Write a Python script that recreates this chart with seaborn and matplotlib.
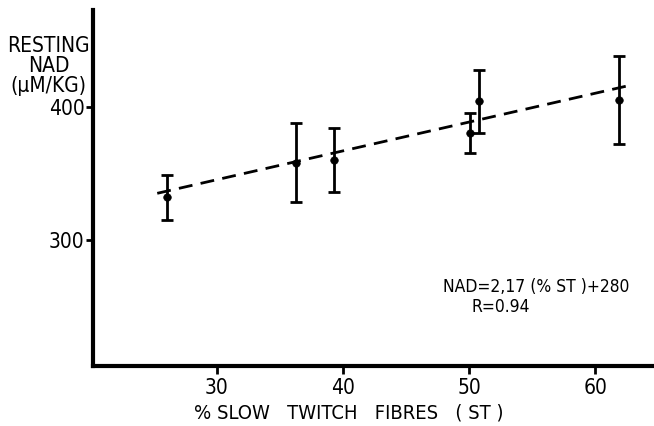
import matplotlib
matplotlib.use("Agg")
import matplotlib.pyplot as plt
import seaborn as sns
import numpy as np
import pandas as pd

# data
st_pct = [26.1, 36.3, 39.3, 50.1, 50.8, 61.9]
nad_mean = [332, 358, 360, 380, 404, 405]
nad_err = [17, 30, 24, 15, 24, 33]

# regression NAD = 2.17 (%ST) + 280
slope = 2.17
intercept = 280
fit_x = [25.3, 63.0]

x_ticks = [30, 40, 50, 60]
y_ticks = [300, 400]

sns.set_style("ticks")
plt.rcParams['font.family'] = ['DejaVu Sans']
plt.rcParams['font.stretch'] = 'condensed'
for k in ['text.color', 'axes.labelcolor', 'xtick.color', 'ytick.color', 'axes.edgecolor']:
    plt.rcParams[k] = 'black'

df = pd.DataFrame({'st': st_pct, 'nad': nad_mean, 'err': nad_err})
fit = pd.DataFrame({'st': fit_x})
fit['nad'] = slope * fit['st'] + intercept

fig = plt.figure(figsize=(6.54, 4.26), dpi=100)
ax = fig.add_axes([0.142, 0.141, 0.855, 0.836])

ax.errorbar(df['st'], df['nad'], yerr=df['err'], fmt='none', ecolor='black',
            elinewidth=2, capsize=4, capthick=2)
sns.scatterplot(data=df, x='st', y='nad', color='black', s=30, edgecolor='black',
                ax=ax, zorder=3)
sns.lineplot(data=fit, x='st', y='nad', color='black', lw=2, ax=ax)
ax.lines[-1].set_dashes([5, 3])

ax.set_xlim(20.2, 64.5)
ax.set_ylim(205, 473)
ax.set_xticks(x_ticks)
ax.set_yticks(y_ticks)
ax.tick_params(width=2, length=6, labelsize=15, direction='out', pad=3)
ax.tick_params(axis='y', length=5, pad=1)

for s in ['top', 'right']:
    ax.spines[s].set_visible(False)
for s in ['left', 'bottom']:
    ax.spines[s].set_linewidth(3)

ax.set_xlabel('% SLOW   TWITCH   FIBRES   ( ST )', fontsize=14.5)
ax.xaxis.set_label_coords(0.458, -0.105)
ax.set_ylabel('')
fig.text(0.074, 0.845, 'RESTING\nNAD\n(\u00b5M/KG)', fontsize=15, ha='center',
         va='center', linespacing=1.0)

ax.text(0.626, 0.208, 'NAD=2,17 (% ST )+280', transform=ax.transAxes, fontsize=12.5)
ax.text(0.678, 0.152, 'R=0.94', transform=ax.transAxes, fontsize=12.5)

fig.savefig('out.png', dpi=100)
